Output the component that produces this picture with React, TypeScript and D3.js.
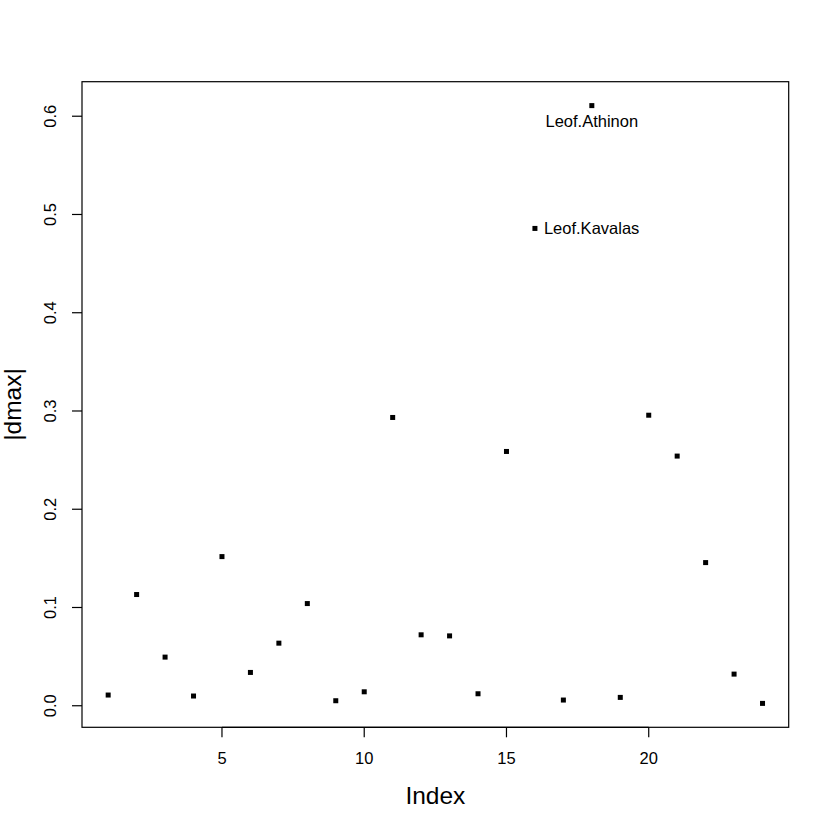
import React from "react";
import * as d3 from "d3";

const indices = d3.range(1, 25);
const dmax = [0.0109, 0.1132, 0.0495, 0.0099, 0.1518, 0.0339, 0.0637, 0.104, 0.0051, 0.0142, 0.2934, 0.0722, 0.0711, 0.0122, 0.2588, 0.4858, 0.0058, 0.6108, 0.0085, 0.2957, 0.2541, 0.1457, 0.0322, 0.0024];
const xTicks = [5, 10, 15, 20];
const yTicks = [0, 0.1, 0.2, 0.3, 0.4, 0.5, 0.6];
const annotations = [
  { index: 18, label: "Leof.Athinon", pos: "below" },
  { index: 16, label: "Leof.Kavalas", pos: "right" },
];

const W = 830, H = 830;
const left = 82, right = 788.7, top = 81.7, bottom = 727.3;
const FONT = "'Liberation Sans', Arial, Helvetica, sans-serif";

function pad(ext: [number, number]): [number, number] {
  const r = ext[1] - ext[0];
  return [ext[0] - 0.04 * r, ext[1] + 0.04 * r];
}

export default function App() {
  const x = d3.scaleLinear().domain(pad([1, 24])).range([left, right]);
  const y = d3.scaleLinear().domain(pad(d3.extent(dmax) as [number, number])).range([bottom, top]);
  const sq = 5;
  return (
    <svg width={W} height={H} style={{ position: "absolute", left: 0, top: 0, background: "#fff" }} fontFamily={FONT}>
      <rect x={0} y={0} width={W} height={H} fill="#fff" />
      <rect x={left} y={top} width={right - left} height={bottom - top} fill="none" stroke="#000" strokeWidth={1.2} />
      {/* x axis */}
      {xTicks.map((t) => (
        <g key={"x" + t}>
          <line x1={x(t)} x2={x(t)} y1={bottom} y2={bottom + 10} stroke="#000" strokeWidth={1.2} />
          <text x={x(t)} y={763.5} textAnchor="middle" fontSize={16.5}>{t}</text>
        </g>
      ))}
      <line x1={x(5)} x2={x(20)} y1={bottom} y2={bottom} stroke="#000" strokeWidth={1.2} />
      {/* y axis */}
      {yTicks.map((t) => (
        <g key={"y" + t}>
          <line x1={left - 10} x2={left} y1={y(t)} y2={y(t)} stroke="#000" strokeWidth={1.2} />
          <text transform={`translate(56.3,${y(t)}) rotate(-90)`} textAnchor="middle" fontSize={16.5}>{t.toFixed(1)}</text>
        </g>
      ))}
      <text x={(left + right) / 2} y={804} textAnchor="middle" fontSize={24.5}>Index</text>
      <text transform={`translate(20.7,${(top + bottom) / 2}) rotate(-90)`} textAnchor="middle" fontSize={24.5}>|dmax|</text>
      {/* points */}
      {dmax.map((v, i) => (
        <rect key={i} x={x(indices[i]) - sq / 2} y={y(v) - sq / 2} width={sq} height={sq} fill="#000" />
      ))}
      {annotations.map((a) => {
        const px = x(a.index);
        const py = y(dmax[a.index - 1]);
        return a.pos === "below" ? (
          <text key={a.label} x={px} y={py + 21} textAnchor="middle" fontSize={16.5}>{a.label}</text>
        ) : (
          <text key={a.label} x={px + 9} y={py + 6} textAnchor="start" fontSize={16.5}>{a.label}</text>
        );
      })}
    </svg>
  );
}
